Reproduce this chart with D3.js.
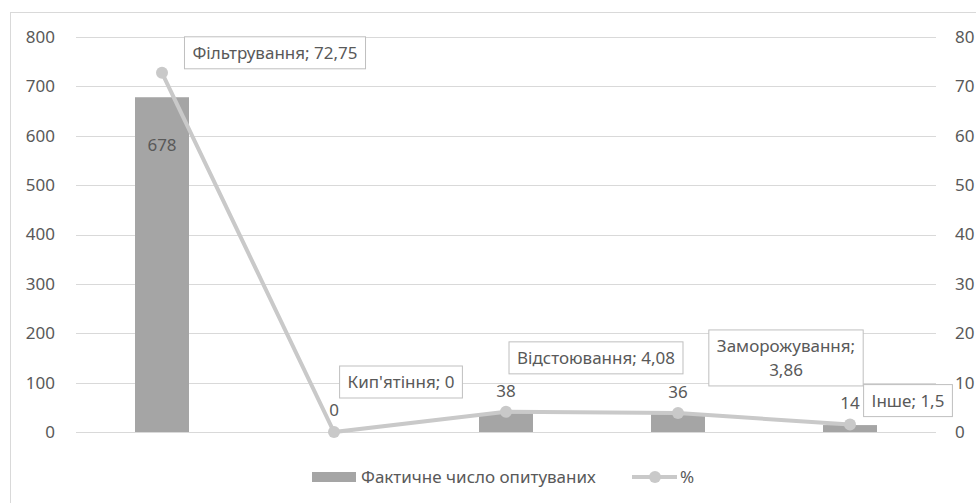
<!DOCTYPE html>
<html lang="uk">
<head>
    <meta charset="UTF-8">
    <title>Способи очищення води</title>
    <script src="https://d3js.org/d3.v7.min.js"></script>
    <style>
        body { margin: 0; background: #fff; }
        svg text {
            font-family: "Noto Sans", "Open Sans", sans-serif;
            font-size: 17px;
            fill: #595959;
        }
        .grid line { stroke: #d9d9d9; stroke-width: 1; }
        .axis .domain, .axis line { display: none; }
        .axis text { font-size: 17px; }
        .bar { fill: #a5a5a5; }
        .pct-line { fill: none; stroke: #c9c9c9; stroke-width: 4; }
        .pct-dot { fill: #c9c9c9; }
        .label-box { fill: #fff; stroke: #bfbfbf; stroke-width: 1; }
    </style>
</head>
<body>
<div id="chart"></div>
<script>
    // data
    const categories = ["Фільтрування", "Кип'ятіння", "Відстоювання", "Заморожування", "Інше"];
    const respondents = [678, 0, 38, 36, 14];
    const percent = [72.75, 0, 4.08, 3.86, 1.5];
    const leftTicks = [0, 100, 200, 300, 400, 500, 600, 700, 800];
    const rightTicks = [0, 10, 20, 30, 40, 50, 60, 70, 80];
    const seriesNames = ["Фактичне число опитуваних", "%"];

    // where the callout boxes sit relative to their point (px)
    const calloutOffsets = [[113, -20], [67, -50], [90, -54], [108, -55], [58, -24]];
    // callouts that wrap onto two lines
    const calloutWrap = [false, false, false, true, false];

    const width = 976, height = 503;
    const margin = { top: 37, right: 40, bottom: 71, left: 76 };

    const svg = d3.select("#chart").append("svg")
        .attr("width", width)
        .attr("height", height);

    // chart area frame
    svg.append("rect")
        .attr("x", 10.5).attr("y", 12.5)
        .attr("width", 1000).attr("height", 600)
        .attr("fill", "none")
        .attr("stroke", "#d9d9d9");

    const x = d3.scaleBand()
        .domain(categories)
        .range([margin.left, width - margin.right])
        .paddingInner(0.686)
        .paddingOuter(0.343);

    const yLeft = d3.scaleLinear().domain([0, 800]).range([height - margin.bottom, margin.top]);
    const yRight = d3.scaleLinear().domain([0, 80]).range([height - margin.bottom, margin.top]);

    const cx = d => x(d) + x.bandwidth() / 2;

    // gridlines
    svg.append("g").attr("class", "grid")
        .selectAll("line")
        .data(leftTicks)
        .join("line")
        .attr("x1", margin.left)
        .attr("x2", width - margin.right)
        .attr("y1", d => Math.round(yLeft(d)) + 0.5)
        .attr("y2", d => Math.round(yLeft(d)) + 0.5);

    svg.append("g").attr("class", "axis")
        .attr("transform", `translate(${margin.left - 12},0)`)
        .call(d3.axisLeft(yLeft).tickValues(leftTicks).tickSize(0).tickPadding(9));

    svg.append("g").attr("class", "axis")
        .attr("transform", `translate(${width - margin.right + 10},0)`)
        .call(d3.axisRight(yRight).tickValues(rightTicks).tickSize(0).tickPadding(9));

    // bars
    svg.append("g")
        .selectAll("rect")
        .data(respondents)
        .join("rect")
        .attr("class", "bar")
        .attr("x", (d, i) => x(categories[i]))
        .attr("width", x.bandwidth())
        .attr("y", d => yLeft(d))
        .attr("height", d => yLeft(0) - yLeft(d));

    // bar labels: inside for the tall one, above for the rest
    svg.append("g")
        .selectAll("text")
        .data(respondents)
        .join("text")
        .attr("x", (d, i) => cx(categories[i]))
        .attr("y", d => d > 300 ? yLeft(d) + 48 : yLeft(d) - 22)
        .attr("dy", "0.35em")
        .attr("text-anchor", "middle")
        .text(d => d);

    // percent line
    const line = d3.line()
        .x((d, i) => cx(categories[i]))
        .y(d => yRight(d));

    svg.append("path")
        .datum(percent)
        .attr("class", "pct-line")
        .attr("d", line);

    svg.append("g")
        .selectAll("circle")
        .data(percent)
        .join("circle")
        .attr("class", "pct-dot")
        .attr("cx", (d, i) => cx(categories[i]))
        .attr("cy", d => yRight(d))
        .attr("r", 6);

    // callout boxes with "category; value"
    const fmt = v => String(v).replace(".", ",");
    const callouts = svg.append("g")
        .selectAll("g")
        .data(percent)
        .join("g")
        .attr("transform", (d, i) => `translate(${cx(categories[i]) + calloutOffsets[i][0]},${yRight(d) + calloutOffsets[i][1]})`);

    callouts.each(function(d, i) {
        const g = d3.select(this);
        const box = g.append("rect").attr("class", "label-box");
        const lines = calloutWrap[i]
            ? [categories[i] + ";", fmt(d)]
            : [categories[i] + "; " + fmt(d)];
        const lh = 24;
        const t = g.append("text").attr("text-anchor", "middle");
        lines.forEach((s, k) => {
            t.append("tspan")
                .attr("x", 0)
                .attr("y", (k - (lines.length - 1) / 2) * lh)
                .attr("dy", "0.35em")
                .text(s);
        });
        const w = t.node().getBBox().width + 16;
        const h = lines.length * lh + 8;
        box.attr("x", -w / 2).attr("y", -h / 2).attr("width", w).attr("height", h);
    });

    // legend
    const legend = svg.append("g").attr("transform", "translate(312,477)");
    legend.append("rect")
        .attr("class", "bar")
        .attr("x", 0).attr("y", -5)
        .attr("width", 44).attr("height", 10);
    legend.append("text")
        .attr("x", 49).attr("dy", "0.35em")
        .text(seriesNames[0]);
    legend.append("line")
        .attr("x1", 320).attr("x2", 365)
        .attr("stroke", "#c9c9c9").attr("stroke-width", 4);
    legend.append("circle")
        .attr("class", "pct-dot")
        .attr("cx", 343).attr("r", 6);
    legend.append("text")
        .attr("x", 368).attr("dy", "0.35em")
        .text(seriesNames[1]);
</script>
</body>
</html>
